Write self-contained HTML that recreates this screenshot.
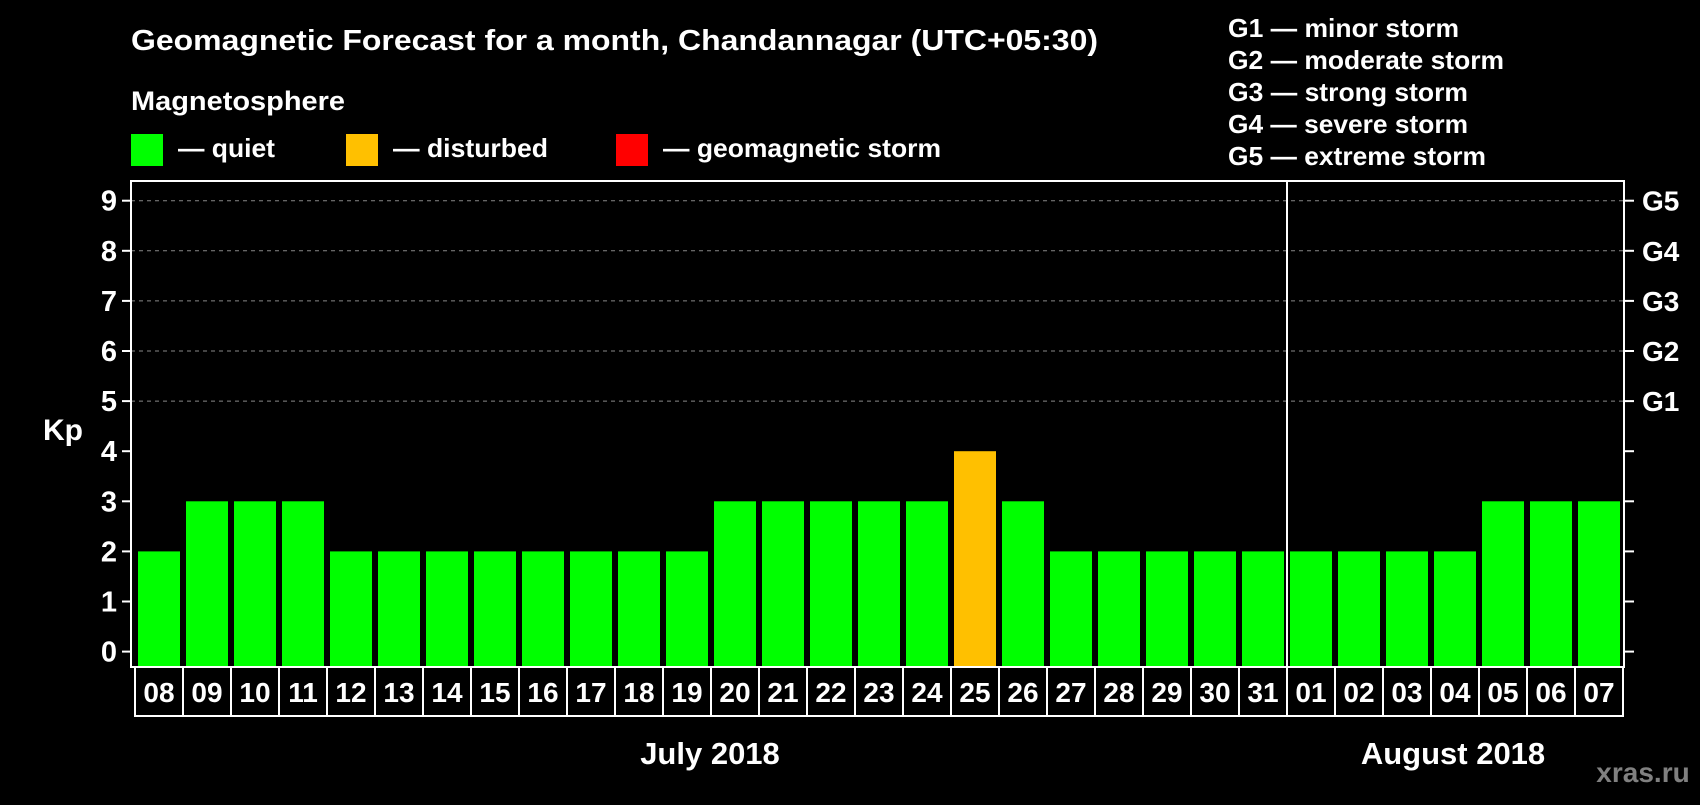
<!DOCTYPE html>
<html><head><meta charset="utf-8"><style>
html,body{margin:0;padding:0;background:#000;}
svg text{font-family:"Liberation Sans",Arial,sans-serif;font-weight:bold;fill:#fff;}
</style></head><body>
<svg id="chart" width="1700" height="800" xmlns="http://www.w3.org/2000/svg">
<rect width="1700" height="800" fill="#000"/>
<text x="131" y="50" font-size="29" textLength="967" lengthAdjust="spacingAndGlyphs">Geomagnetic Forecast for a month, Chandannagar (UTC+05:30)</text>
<text x="131" y="110" font-size="27" textLength="214" lengthAdjust="spacingAndGlyphs">Magnetosphere</text>
<g><rect x="131" y="134" width="32" height="32" fill="#00ff00"/><text x="178" y="157" font-size="26" textLength="97" lengthAdjust="spacingAndGlyphs">— quiet</text></g>
<g><rect x="346" y="134" width="32" height="32" fill="#ffc000"/><text x="393" y="157" font-size="26" textLength="155" lengthAdjust="spacingAndGlyphs">— disturbed</text></g>
<g><rect x="616" y="134" width="32" height="32" fill="#ff0000"/><text x="663" y="157" font-size="26" textLength="278" lengthAdjust="spacingAndGlyphs">— geomagnetic storm</text></g>
<g font-size="26">
<text x="1228" y="37" textLength="231" lengthAdjust="spacingAndGlyphs">G1 — minor storm</text>
<text x="1228" y="69" textLength="276" lengthAdjust="spacingAndGlyphs">G2 — moderate storm</text>
<text x="1228" y="101" textLength="240" lengthAdjust="spacingAndGlyphs">G3 — strong storm</text>
<text x="1228" y="133" textLength="240" lengthAdjust="spacingAndGlyphs">G4 — severe storm</text>
<text x="1228" y="165" textLength="258" lengthAdjust="spacingAndGlyphs">G5 — extreme storm</text>
</g>
<text x="43" y="440" font-size="30">Kp</text>
<g id="grid"></g><g id="bars"></g><g id="axes"></g><g id="dates"></g>
<text x="710" y="764" font-size="31" text-anchor="middle">July 2018</text>
<text x="1453" y="764" font-size="31" text-anchor="middle">August 2018</text>
<text x="1643" y="782" font-size="28" text-anchor="middle" style="fill:#808080">xras.ru</text>
</svg>
<script>
const days = ["08","09","10","11","12","13","14","15","16","17","18","19","20","21","22","23","24","25","26","27","28","29","30","31","01","02","03","04","05","06","07"];
const kp = [2,3,3,3,2,2,2,2,2,2,2,2,3,3,3,3,3,4,3,2,2,2,2,2,2,2,2,2,3,3,3];
const yTicks = [0,1,2,3,4,5,6,7,8,9];
const gLabels = ["G1","G2","G3","G4","G5"];
const gLevels = [5,6,7,8,9];
const monthBreak = 24;
const NS="http://www.w3.org/2000/svg";
const L=131,R=1624,T=181,B=667;
const y=v=>651.6-v*50.1;
const x=i=>138+i*48;
const bw=42;
function mk(tag,attrs,parent){const e=document.createElementNS(NS,tag);for(const k in attrs)e.setAttribute(k,attrs[k]);document.getElementById(parent).appendChild(e);return e;}
yTicks.forEach(v=>{
  if(v>=5){const g=mk('line',{x1:L,x2:R,y1:y(v),y2:y(v),stroke:'#888','stroke-dasharray':'4,4','stroke-width':1},'grid');
  
  }
  const t1=mk('line',{x1:L-9,x2:L,y1:y(v),y2:y(v),stroke:'#fff','stroke-width':2},'axes');
  
  
  const t2=mk('line',{x1:R,x2:R+10,y1:y(v),y2:y(v),stroke:'#fff','stroke-width':2},'axes');
  
  
  const tl=mk('text',{x:L-14,y:y(v)+10,'font-size':29,'text-anchor':'end'},'axes');
  tl.textContent=v;
  
  
});
gLabels.forEach((g,i)=>{
  const t=mk('text',{x:R+18,y:y(gLevels[i])+10,'font-size':28},'axes');
  t.textContent=g;
  
  
});
kp.forEach((v,i)=>{
  const c=v>=5?'#ff0000':(v>=4?'#ffc000':'#00ff00');
  const b=mk('rect',{x:x(i),y:y(v),width:bw,height:B-y(v),fill:c},'bars');
  
  
});
const fr=mk('rect',{x:L,y:T,width:R-L,height:B-T,fill:'none',stroke:'#fff','stroke-width':2},'axes');


const mx=(x(monthBreak-1)+bw+x(monthBreak))/2;
const md=mk('line',{x1:mx,x2:mx,y1:T,y2:B,stroke:'#fff','stroke-width':2},'axes');


days.forEach((d,i)=>{
  const lx=x(i)-3;
  const ln=mk('line',{x1:lx,x2:lx,y1:B,y2:716,stroke:'#fff','stroke-width':2},'dates');
  
  
  const t=mk('text',{x:x(i)+bw/2,y:702,'font-size':28,'text-anchor':'middle'},'dates');
  t.textContent=d;
  
  
});
const ex=x(days.length-1)+bw+3;
const le=mk('line',{x1:ex,x2:ex,y1:B,y2:716,stroke:'#fff','stroke-width':2},'dates');


const bl=mk('line',{x1:x(0)-4,x2:ex+1,y1:716,y2:716,stroke:'#fff','stroke-width':2},'dates');


</script>
</body></html>
